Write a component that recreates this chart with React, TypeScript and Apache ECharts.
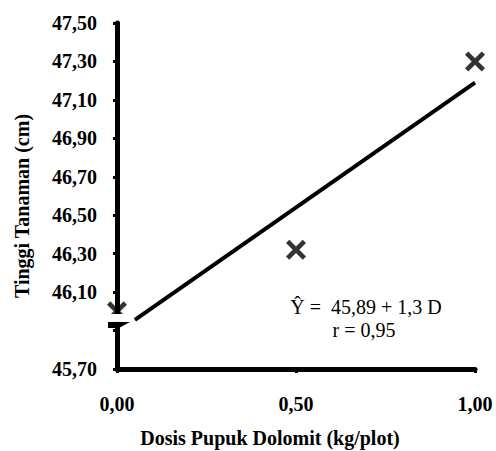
import React, { useEffect, useRef } from "react";
import * as echarts from "echarts";

// Data
const doses = [0, 0.5, 1.0];
const heights = [46.0, 46.32, 47.3];
const trendDoses = [0.05, 1.0];
const trendHeights = [45.955, 47.19];
const yTickValues = [45.7, 45.9, 46.1, 46.3, 46.5, 46.7, 46.9, 47.1, 47.3, 47.5];
const yLabelValues = [45.7, 46.1, 46.3, 46.5, 46.7, 46.9, 47.1, 47.3, 47.5];
const xTickValues = [0, 0.5, 1.0];
const equationText = "Ŷ =  45,89 + 1,3 D";
const rText = "r = 0,95";
const xName = "Dosis Pupuk Dolomit (kg/plot)";
const yName = "Tinggi Tanaman (cm)";

const FONT = "'Liberation Serif', 'Times New Roman', serif";
const fmt = (v: number) => v.toFixed(2).replace(".", ",");
const crossPath =
  "path://M0,3.3 L3.3,0 L10,6.7 L16.7,0 L20,3.3 L13.3,10 L20,16.7 L16.7,20 L10,13.3 L3.3,20 L0,16.7 L6.7,10 Z";

export default function App() {
  const ref = useRef<HTMLDivElement>(null);
  useEffect(() => {
    if (!ref.current) return;
    document.body.style.margin = "0";
    document.body.style.overflow = "hidden";
    const chart = echarts.init(ref.current, null, { renderer: "svg" });
    chart.setOption({
      animation: false,
      backgroundColor: "#ffffff",
      grid: { left: 117, right: 21, top: 23, bottom: 82, containLabel: false },
      xAxis: {
        type: "value",
        min: 0,
        max: 1,
        interval: 0.5,
        axisLine: { show: true, onZero: false, lineStyle: { color: "#000", width: 5 } },
        axisTick: { show: true, length: 4, lineStyle: { color: "#000", width: 3 }, customValues: xTickValues },
        axisLabel: {
          fontFamily: FONT,
          fontWeight: "bold",
          fontSize: 20,
          color: "#000",
          margin: 25,
          formatter: fmt,
          customValues: xTickValues,
        },
        splitLine: { show: false },
      },
      yAxis: {
        type: "value",
        min: 45.7,
        max: 47.5,
        axisLine: { show: true, onZero: false, lineStyle: { color: "#000", width: 5 } },
        axisTick: { show: true, length: 4, lineStyle: { color: "#000", width: 3 }, customValues: yTickValues },
        axisLabel: {
          fontFamily: FONT,
          fontWeight: "bold",
          fontSize: 20,
          color: "#000",
          margin: 20,
          formatter: fmt,
          customValues: yLabelValues,
        },
        splitLine: { show: false },
      },
      series: [
        {
          type: "line",
          data: trendDoses.map((d, i) => [d, trendHeights[i]]),
          symbol: "none",
          lineStyle: { color: "#000", width: 4 },
          z: 2,
        },
        {
          type: "scatter",
          data: doses.map((d, i) => [d, heights[i]]),
          symbol: crossPath,
          symbolSize: 20,
          itemStyle: { color: "#000" },
          z: 3,
        },
      ],
    });

    const p = (x: number, y: number) => chart.convertToPixel({ gridIndex: 0 }, [x, y]) as number[];
    const ax = p(0, 46)[0];
    const whiteTop = p(0, 45.986)[1];
    const wedgeTop = p(0, 45.945)[1];
    const wedgeBottom = p(0, 45.913)[1];
    chart.setOption({
      graphic: [
        {
          type: "rect",
          z: 100,
          shape: { x: ax - 14, y: whiteTop, width: 30, height: wedgeTop - whiteTop },
          style: { fill: "#fff" },
        },
        {
          type: "polygon",
          z: 101,
          shape: {
            points: [
              [ax - 9, wedgeTop],
              [ax + 13, wedgeTop],
              [ax + 2, wedgeBottom],
              [ax - 9, wedgeBottom],
            ],
          },
          style: { fill: "#000" },
        },
        {
          type: "text",
          z: 101,
          x: 366,
          y: 307,
          style: {
            text: equationText,
            fontFamily: FONT,
            fontSize: 20,
            fill: "#000",
            align: "center",
            verticalAlign: "middle",
          },
        },
        {
          type: "text",
          z: 101,
          x: 364,
          y: 330,
          style: {
            text: rText,
            fontFamily: FONT,
            fontSize: 20,
            fill: "#000",
            align: "center",
            verticalAlign: "middle",
          },
        },
        {
          type: "text",
          z: 101,
          x: 270,
          y: 438,
          style: {
            text: xName,
            fontFamily: FONT,
            fontWeight: "bold",
            fontSize: 20,
            fill: "#000",
            align: "center",
            verticalAlign: "middle",
          },
        },
        {
          type: "text",
          z: 101,
          x: 22,
          y: 206,
          rotation: Math.PI / 2,
          style: {
            text: yName,
            fontFamily: FONT,
            fontWeight: "bold",
            fontSize: 20,
            fill: "#000",
            align: "center",
            verticalAlign: "middle",
          },
        },
      ],
    });
    return () => chart.dispose();
  }, []);
  return <div ref={ref} style={{ width: 496, height: 451 }} />;
}
